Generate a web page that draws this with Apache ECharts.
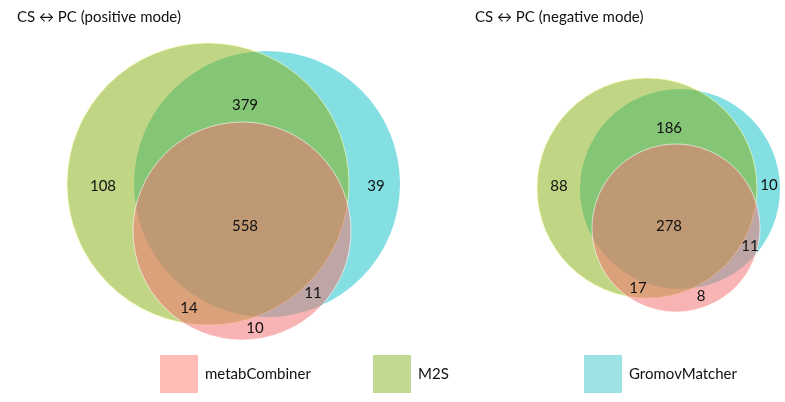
<!DOCTYPE html>
<html>
<head>
<meta charset="utf-8">
<script src="https://cdn.jsdelivr.net/npm/echarts@6/dist/echarts.min.js"></script>
<style>
  html, body { margin: 0; padding: 0; background: #fff; }
  #chart { width: 785px; height: 402px; }
</style>
</head>
<body>
<div id="chart"></div>
<script>
// sets, in legend order
const setNames = ['metabCombiner', 'M2S', 'GromovMatcher'];
const legendColors = ['#ffbbb6', '#c0da94', '#9de3e4'];

// region counts: M2S∩Gromov, M2S only, Gromov only, all three, metab∩M2S, metab∩Gromov, metab only
const regionNames = ['M2S ∩ GromovMatcher', 'M2S', 'GromovMatcher', 'all three',
  'metabCombiner ∩ M2S', 'metabCombiner ∩ GromovMatcher', 'metabCombiner'];
const positiveCounts = [379, 108, 39, 558, 14, 11, 10];
const negativeCounts = [186, 88, 10, 278, 17, 11, 8];

const panelTitles = ['CS \u2194 PC (positive mode)', 'CS \u2194 PC (negative mode)'];

// layout (panel units = px inside each grid): circles [cx, cy, r] and label anchors
const layout = [
  {
    grid: { left: 40, top: 30, width: 400, height: 320 },
    circles: { metabCombiner: [202, 201, 109], M2S: [168, 154, 141], GromovMatcher: [227, 154, 133] },
    labelPos: [[205, 75], [63, 156], [336, 156], [205, 196], [149, 278], [273, 263], [215, 298]]
  },
  {
    grid: { left: 440, top: 30, width: 345, height: 320 },
    circles: { metabCombiner: [236, 198, 84], M2S: [207, 158, 110], GromovMatcher: [240, 159, 100] },
    labelPos: [[229, 98], [119, 156], [329, 155], [229, 196], [198, 258], [310, 216], [261, 266]]
  }
];

// circle fills (drawn cyan, then green, then pink on top)
const circleStyle = {
  GromovMatcher: { fill: 'rgb(132,223,226)' },
  M2S: { fill: 'rgba(131,173,9,0.5)', stroke: 'rgba(255,255,190,0.6)', lineWidth: 1 },
  metabCombiner: { fill: 'rgba(241,113,113,0.53)', stroke: 'rgba(255,255,255,0.6)', lineWidth: 1 }
};
const drawOrder = ['GromovMatcher', 'M2S', 'metabCombiner'];

const FONT = 'Lato, "Open Sans", sans-serif';

const chart = echarts.init(document.getElementById('chart'));

const grids = [], xAxes = [], yAxes = [], series = [];
layout.forEach((p, i) => {
  grids.push(p.grid);
  xAxes.push({ type: 'value', gridIndex: i, min: 0, max: p.grid.width, show: false });
  yAxes.push({ type: 'value', gridIndex: i, min: 0, max: p.grid.height, inverse: true, show: false });

  drawOrder.forEach(name => {
    series.push({
      name: name,
      type: 'custom',
      xAxisIndex: i,
      yAxisIndex: i,
      silent: true,
      data: [p.circles[name]],
      encode: { x: 0, y: 1 },
      renderItem: (params, api) => {
        const c = api.coord([api.value(0), api.value(1)]);
        const r = api.size([api.value(2), 0])[0];
        return {
          type: 'circle',
          shape: { cx: c[0], cy: c[1], r: r },
          style: Object.assign({ lineWidth: 0 }, circleStyle[name])
        };
      }
    });
  });

  const counts = i === 0 ? positiveCounts : negativeCounts;
  series.push({
    name: 'counts',
    type: 'custom',
    xAxisIndex: i,
    yAxisIndex: i,
    silent: true,
    data: counts.map((v, k) => [p.labelPos[k][0], p.labelPos[k][1], v]),
    encode: { x: 0, y: 1 },
    renderItem: (params, api) => {
      const c = api.coord([api.value(0), api.value(1)]);
      return {
        type: 'text',
        x: c[0],
        y: c[1],
        style: {
          text: String(api.value(2)),
          align: 'center',
          verticalAlign: 'middle',
          fill: '#111',
          font: '15px ' + FONT
        }
      };
    }
  });
});

const legendLeft = [160, 373, 584];

chart.setOption({
  animation: false,
  backgroundColor: '#fff',
  title: panelTitles.map((t, i) => ({
    text: t,
    left: i === 0 ? 12 : 470,
    top: 5,
    textStyle: { fontFamily: FONT, fontSize: 15, fontWeight: 'normal', color: '#111' }
  })),
  grid: grids,
  xAxis: xAxes,
  yAxis: yAxes,
  legend: setNames.map((name, i) => ({
    left: legendLeft[i],
    top: 355,
    padding: 0,
    itemWidth: 38,
    itemHeight: 38,
    icon: 'rect',
    selectedMode: false,
    textStyle: { fontFamily: FONT, fontSize: 15, color: '#111', padding: [0, 0, 0, 2] },
    data: [{ name: name, itemStyle: { color: legendColors[i], borderWidth: 0 } }]
  })),
  series: series
});
</script>
</body>
</html>
